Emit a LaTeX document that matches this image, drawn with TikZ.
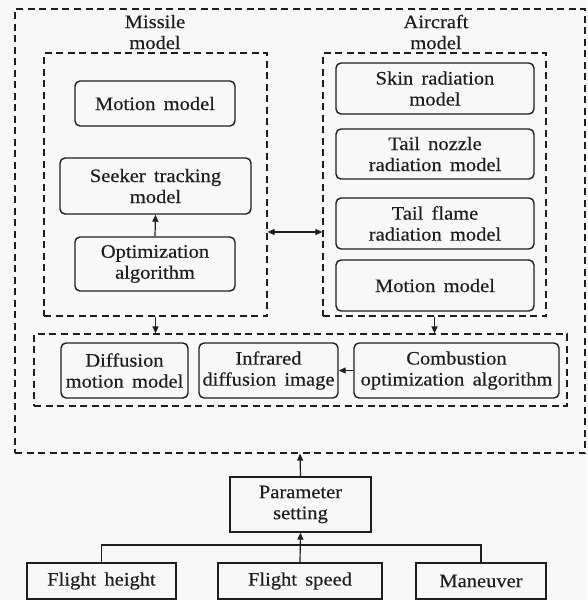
\documentclass[tikz,border=0pt]{standalone}
\usepackage{fontspec}
\setmainfont{Liberation Serif}[FakeStretch=1.08,WordSpace=1.6,FakeBold=0.4]
\usepackage{tikz}
\usetikzlibrary{arrows.meta}
\definecolor{bg1}{HTML}{F8F8F8}
\definecolor{ink1}{HTML}{1E1E1E}
\tikzset{
  dashbox/.style={draw=ink1,line width=1.2pt,dash pattern=on 7pt off 4.5pt,inner sep=0pt},
  rbox/.style={draw=ink1,line width=1.4pt,rounded corners=5pt,align=center,inner sep=0pt,text=ink1},
  sbox/.style={draw=ink1,line width=1.4pt,align=center,inner sep=0pt,text=ink1},
  arr/.style={draw=ink1,line width=1.2pt,-{Triangle[length=7pt,width=6pt]}},
  dblarr/.style={draw=ink1,line width=1.2pt,{Triangle[length=7pt,width=6pt]}-{Triangle[length=7pt,width=6pt]}},
  conn/.style={draw=ink1,line width=1.2pt},
}
\begin{document}
\begin{tikzpicture}[x=1pt,y=-1pt,font=\fontsize{19}{21}\selectfont]
\fill[bg1] (0,0) rectangle (587,600);
\useasboundingbox (0,0) rectangle (587,600);
% groups
\node[dashbox,minimum width=570pt,minimum height=444pt] (outer) at (300,231) {};
\node[dashbox,minimum width=223pt,minimum height=263pt] (missile) at (155.5,184.5) {};
\node[dashbox,minimum width=223pt,minimum height=263pt] (aircraft) at (434.5,184.5) {};
\node[dashbox,minimum width=533pt,minimum height=72pt] (diffgrp) at (300.5,370) {};
\node[align=center,text=ink1] (missiletitle) at (155,32) {Missile\\model};
\node[align=center,text=ink1] (aircrafttitle) at (436,32) {Aircraft\\model};
% missile model
\node[rbox,minimum width=160pt,minimum height=45pt] (mmotion) at (155,103.5) {Motion model};
\node[rbox,minimum width=191pt,minimum height=56pt] (seeker) at (155.5,186) {Seeker tracking\\model};
\node[rbox,minimum width=160pt,minimum height=54pt] (optim) at (155,264) {Optimization\\algorithm};
% aircraft model
\node[rbox,minimum width=198pt,minimum height=51pt] (skin) at (435,88.5) {Skin radiation\\model};
\node[rbox,minimum width=198pt,minimum height=50pt] (nozzle) at (435,154) {Tail nozzle\\radiation model};
\node[rbox,minimum width=198pt,minimum height=51pt] (flame) at (435,223.5) {Tail flame\\radiation model};
\node[rbox,minimum width=198pt,minimum height=51pt] (amotion) at (435,285.5) {Motion model};
% diffusion
\node[rbox,minimum width=127pt,minimum height=55pt] (diffusion) at (124.5,370.5) {Diffusion\\motion model};
\node[rbox,minimum width=139pt,minimum height=55pt] (infrared) at (268.5,370.5) {Infrared\\diffusion image};
\node[rbox,minimum width=205pt,minimum height=55pt] (combustion) at (456.5,370.5) {Combustion\\optimization algorithm};
% parameters
\node[sbox,minimum width=141pt,minimum height=55pt] (param) at (300.5,504.5) {Parameter\\setting};
\node[sbox,minimum width=149pt,minimum height=36pt] (fheight) at (101.5,581) {Flight height};
\node[sbox,minimum width=164pt,minimum height=36pt] (fspeed) at (300,581) {Flight speed};
\node[sbox,minimum width=130pt,minimum height=36pt] (maneuver) at (481,581) {Maneuver};
% connectors
\draw[arr] (optim.north) -- (seeker.south);
\draw[dblarr] ([yshift=-47.5pt]missile.east) -- ([yshift=-47.5pt]aircraft.west);
\draw[arr] (missile.south) -- (missile.south |- diffgrp.north);
\draw[arr] (aircraft.south) -- (aircraft.south |- diffgrp.north);
\draw[arr] (combustion.west) -- (infrared.east);
\draw[arr] (param.north) -- (outer.south);
\draw[conn] (fheight.north) -- (fheight.north |- 0,545) -- (maneuver.north |- 0,545) -- (maneuver.north);
\draw[arr] (fspeed.north) -- (param.south);
\end{tikzpicture}
\end{document}
